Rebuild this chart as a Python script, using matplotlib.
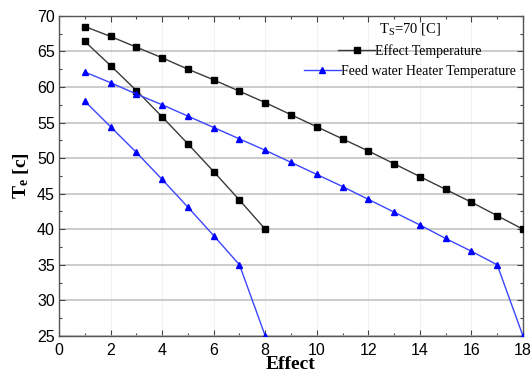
import matplotlib
matplotlib.use("Agg")
import matplotlib.pyplot as plt
from matplotlib.ticker import MultipleLocator
from matplotlib.lines import Line2D

plt.rcParams["mathtext.fontset"] = "custom"
plt.rcParams["mathtext.rm"] = "Liberation Serif"
plt.rcParams["mathtext.bf"] = "Liberation Serif:bold"
plt.rcParams["mathtext.it"] = "Liberation Serif:italic"

effects_18 = list(range(1, 19))
effects_8 = list(range(1, 9))

# effect temperatures for the 18-effect and 8-effect plants
effect_t_18 = [68.5, 67.1, 65.6, 64.1, 62.5, 61.0, 59.4, 57.8, 56.1,
               54.4, 52.7, 51.0, 49.2, 47.4, 45.6, 43.8, 41.9, 40.0]
effect_t_8 = [66.4, 63.0, 59.5, 55.8, 52.0, 48.1, 44.1, 40.0]

# feed water heater temperatures
heater_t_18 = [62.1, 60.6, 59.0, 57.5, 55.9, 54.3, 52.7, 51.1, 49.4,
               47.7, 46.0, 44.2, 42.4, 40.6, 38.7, 36.9, 35.0, 25.0]
heater_t_8 = [58.0, 54.4, 50.8, 47.0, 43.1, 39.1, 35.0, 25.0]

black_line = "#3a3a3a"
blue_line = "#3b46ff"
sq = dict(marker="s", ms=4.2, mfc="black", mec="black")
tri = dict(marker="^", ms=4.6, mfc="#0000ff", mec="#0000ff")

fig = plt.figure(figsize=(5.32, 3.77), dpi=100)
ax = fig.add_axes([0.111, 0.109, 0.872, 0.849])

for x, y in [(effects_18, effect_t_18), (effects_8, effect_t_8)]:
    ax.plot(x, y, color=black_line, lw=1.0, zorder=3, **sq)
for x, y in [(effects_18, heater_t_18), (effects_8, heater_t_8)]:
    ax.plot(x, y, color=blue_line, lw=1.0, zorder=3, **tri)

ax.set_xlim(0, 18)
ax.set_ylim(25, 70)
ax.xaxis.set_major_locator(MultipleLocator(2))
ax.xaxis.set_minor_locator(MultipleLocator(1))
ax.yaxis.set_major_locator(MultipleLocator(5))
ax.yaxis.set_minor_locator(MultipleLocator(2.5))

ax.grid(axis="y", which="major", color="#c4c4c4", lw=1.2, zorder=0)
ax.grid(axis="x", which="major", color="#f2f2f2", lw=0.8, zorder=0)

ax.tick_params(which="both", direction="in", top=True, right=True,
               color="#444444", width=0.8)
ax.tick_params(which="major", length=4, labelsize=11.5)
ax.tick_params(axis="x", which="major", pad=5)
ax.tick_params(axis="y", which="major", pad=3)
ax.tick_params(which="minor", length=2.5)
for lab in ax.get_xticklabels() + ax.get_yticklabels():
    lab.set_family("Liberation Sans")
for sp in ax.spines.values():
    sp.set_color("#555555")
    sp.set_linewidth(1.0)

ax.set_xlabel("Effect", family="Liberation Serif", fontweight="bold",
              fontsize=14, labelpad=-1)
ax.set_ylabel(r"$\mathbf{T}_{\mathbf{e}}$ [c]", family="Liberation Serif",
              fontweight="bold", fontsize=14, labelpad=4)

handles = [
    Line2D([], [], color=black_line, lw=1.0, **sq),
    Line2D([], [], color=blue_line, lw=1.0, **tri),
]
leg = ax.legend(handles, ["Effect Temperature", "Feed water Heater Temperature"],
                title=r"T$_\mathrm{S}$=70 [C]", loc="upper right",
                bbox_to_anchor=(1.0, 1.005), frameon=False,
                prop={"family": "Liberation Serif", "size": 10},
                title_fontproperties={"family": "Liberation Serif", "size": 10.5},
                handlelength=2.7, handletextpad=0.0, labelspacing=0.5,
                borderpad=0.3, borderaxespad=0.2)
# center each legend row instead of stacking them flush left
for col in leg._legend_handle_box.get_children():
    col.align = "center"

fig.savefig("out.png", dpi=100)
